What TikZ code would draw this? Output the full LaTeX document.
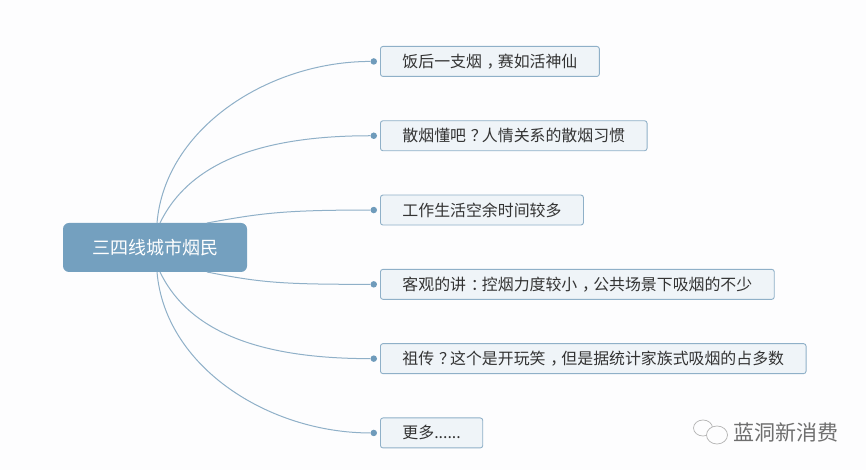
\documentclass[tikz,border=0pt]{standalone}
\usepackage{fontspec}
\setmainfont{Noto Sans CJK SC}
\usepackage{tikz}
\usetikzlibrary{
  positioning
}
\definecolor{rootblue}{HTML}{74A0BF}
\definecolor{itemfill}{HTML}{EFF4F8}
\definecolor{itemline}{HTML}{8FB0C8}
\definecolor{linkblue}{HTML}{8FB0C8}
\definecolor{dotblue}{HTML}{6F9BBB}
\definecolor{paper}{HTML}{FDFDFE}
\definecolor{inktext}{HTML}{333333}
\definecolor{markgray}{HTML}{6E6E6E}
% full-width marks, centred in their em
\newcommand{\zhmark}[1]{\kern.3em\char"#1\relax\kern-.3em}
\tikzset{
  x=1pt, y=1pt,
  node distance=43.4pt,
  root/.style={draw=none, fill=rootblue, rounded corners=6pt, text=white, font=\fontsize{18}{20}\selectfont, minimum width=184pt, minimum height=49pt, inner sep=0pt},
  item/.style={draw=itemline, fill=itemfill, rounded corners=2.5pt, line width=0.9pt, text=inktext, font=\fontsize{15.9}{18}\selectfont, minimum height=30pt, inner ysep=0pt, inner xsep=22pt},
  dot/.style={circle, fill=dotblue, minimum size=6.5pt, inner sep=0pt},
  link/.style={draw=linkblue, line width=1pt},
  bubble/.style={draw=gray!60, line width=0.7pt, fill=paper}
}

\begin{document}
\begin{tikzpicture}
    \useasboundingbox[fill=paper] (0,0) rectangle (866,470);
    \node[root] (root) at (155,222.5) {三四线城市烟民};
    \coordinate (top0) at (157,247);
    \coordinate (top1) at (160,247);
    \coordinate (top2) at (207,247);
    \coordinate (bot0) at (157,198);
    \coordinate (bot1) at (160,198);
    \coordinate (bot2) at (207,198);
    \node[item, anchor=north west] (item1) at (380,424) {饭后一支烟\zhmark{FF0C}赛如活神仙};
    \node[item, below=of item1.south west, anchor=north west] (item2) {散烟懂吧\zhmark{FF1F}人情关系的散烟习惯};
    \node[item, below=of item2.south west, anchor=north west] (item3) {工作生活空余时间较多};
    \node[item, below=of item3.south west, anchor=north west] (item4) {客观的讲\zhmark{FF1A}控烟力度较小\zhmark{FF0C}公共场景下吸烟的不少};
    \node[item, below=of item4.south west, anchor=north west] (item5) {祖传\zhmark{FF1F}这个是开玩笑\zhmark{FF0C}但是据统计家族式吸烟的占多数};
    \node[item, below=of item5.south west, anchor=north west] (item6) {更多......};
    \foreach \i in {1,...,6} {
      \node[dot, left=2.8pt of item\i] (dot\i) {};
    }
    \draw[link] (top0) .. controls +(8,95) and +(-105,0) .. (dot1);
    \draw[link] (top1) .. controls +(30,62) and +(-110,0) .. (dot2);
    \draw[link] (top2) .. controls +(55,10) and +(-90,0) .. (dot3);
    \draw[link] (bot2) .. controls +(55,-11) and +(-90,0) .. (dot4);
    \draw[link] (bot1) .. controls +(30,-62) and +(-110,0) .. (dot5);
    \draw[link] (bot0) .. controls +(8,-95) and +(-105,0) .. (dot6);
    % watermark
    \node[text=markgray, font=\fontsize{21}{23}\selectfont, inner sep=0pt] (mark) at (785.5,38) {蓝洞新消费};
    \draw[bubble] (703,42) ellipse (9.5pt and 8pt);
    \draw[bubble] (717,35) ellipse (10.5pt and 9pt);
\end{tikzpicture}
\end{document}
